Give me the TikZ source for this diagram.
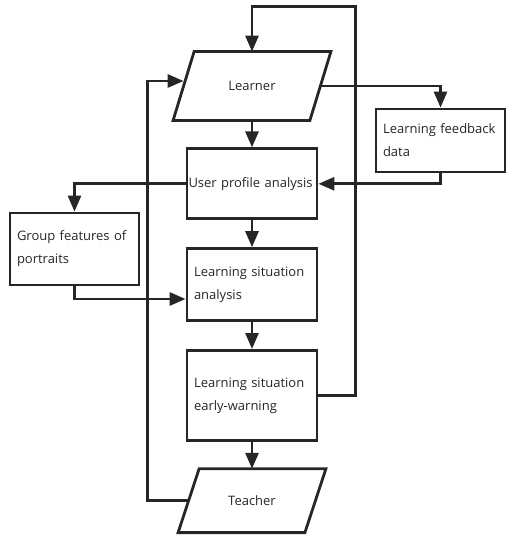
\documentclass[tikz,border=0pt]{standalone}
\usepackage{fontspec}
\setmainfont{Open Sans}
\usetikzlibrary{arrows.meta,positioning,calc}

\begin{document}
\begin{tikzpicture}[x=1pt,y=-1pt,>={Triangle[length=16pt,width=13pt]},node distance=27pt,line width=2.8pt,color=black!85]
  \tikzstyle{box}=[draw,align=left,minimum width=130pt,text width=116pt,inner xsep=7pt,font=\fontsize{13}{23}\selectfont]
  \tikzstyle{io}=[align=center,font=\fontsize{13}{23}\selectfont]
  \useasboundingbox (0,0) rectangle (506,535);
  % main chain
  \node[io,minimum width=134pt,minimum height=66pt] (learner) at (252,86) {Learner};
  \node[box,minimum height=70pt,below=of learner,text width=127pt,inner xsep=1.5pt] (upa) {User profile analysis};
  \node[box,minimum height=72pt,below=of upa] (lsa) {Learning situation\\analysis};
  \node[box,minimum height=90pt,below=of lsa] (ew) {Learning situation\\early-warning};
  \node[io,minimum width=124pt,minimum height=61pt,below=of ew] (teacher) {Teacher};
  % side boxes
  \node[box,minimum width=129pt,text width=115pt,minimum height=63pt] (feedback) at (440.5,140.5) {Learning feedback\\data};
  \node[box,minimum width=129pt,text width=115pt,minimum height=72pt] (group) at (74.5,249) {Group features of\\portraits};
  % parallelograms
  \foreach \n in {learner,teacher}
    \draw[line join=miter] ([xshift=10.5pt]\n.north west) -- ([xshift=10.5pt]\n.north east)
      -- ([xshift=-10.5pt]\n.south east) -- ([xshift=-10.5pt]\n.south west) -- cycle;
  \draw[->] (learner) -- (upa);
  \draw[->] (upa) -- (lsa);
  \draw[->] (lsa) -- (ew);
  \draw[->] (ew) -- (teacher);
  \draw[->] (learner.east) -| (feedback.north);
  \draw[->] (feedback.south) |- (upa.east);
  \draw[->] (upa.west) -| (group.north);
  \draw[->] (group.south) |- ($(lsa.south west)+(0,-23)$);
  % feedback loops
  \draw[->] (ew.east) -- ++(37,0) |- ($(learner.north)+(0,-45)$) -- (learner.north);
  \draw[->] (teacher.west) -- ++(-41,0) |- ([yshift=5pt]learner.west);
\end{tikzpicture}
\end{document}
